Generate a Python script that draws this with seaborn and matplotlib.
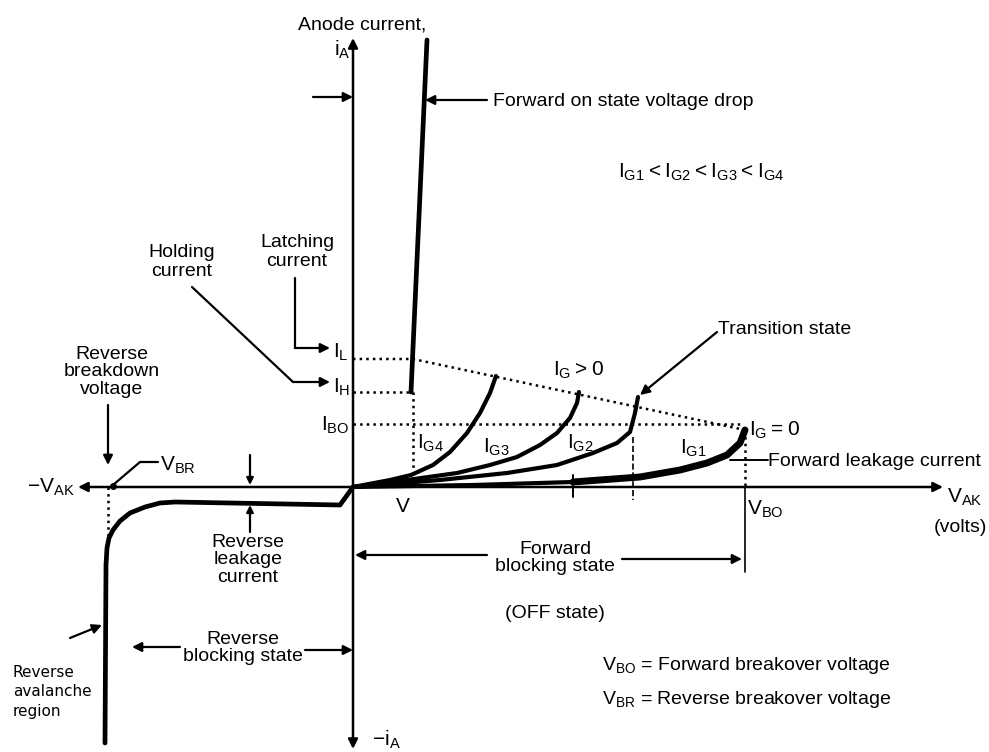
import matplotlib
matplotlib.use("Agg")
import matplotlib.pyplot as plt
import seaborn as sns

# SCR V-I characteristic, values in sketch units (origin = axis crossing)
# on-state branch
on_v = [58, 74]
on_i = [95, 447]

# forward blocking curves for the four gate currents
g4_v = [0, 37, 58, 80, 97, 114, 127, 137, 143]
g4_i = [0, 7, 12, 22, 35, 54, 74, 94, 111]
g3_v = [0, 54, 104, 137, 164, 187, 204, 217, 224, 226]
g3_i = [0, 7, 14, 22, 30, 42, 54, 69, 84, 95]
g2_v = [0, 87, 154, 204, 240, 264, 277, 282, 285]
g2_i = [0, 7, 14, 22, 34, 44, 55, 74, 90]
g1_v = [0, 120, 220, 287, 327, 354, 374, 387, 392]
g1_i = [0, 2, 5, 10, 17, 24, 32, 44, 57]

# reverse branch (leakage + avalanche)
rev_v = [0, -13, -178, -193, -208, -223, -233, -240, -244, -246, -247, -248]
rev_i = [0, -18, -15, -16, -20, -26, -34, -43, -51, -61, -78, -256]

# characteristic levels
I_L = 128
I_H = 95
I_BO = 63
V_ON = 60
V_BO = 392
V_BR = -245
latch_v = [0, V_ON, V_BO]
latch_i = [I_L, I_L, 57]

sns.set_theme(style="white")
plt.rcParams['font.family'] = ['Liberation Sans', 'DejaVu Sans']

fig = plt.figure(figsize=(9.89, 7.52), dpi=100)
ax = fig.add_axes([0, 0, 1, 1])
ax.set_xlim(-353, 636)
ax.set_ylim(-265, 487)
ax.axis('off')

FS = 14
k = 'black'


def arrow(x0, y0, x1, y1, lw=1.6, style='-|>', ms=14):
    ax.annotate('', xy=(x1, y1), xytext=(x0, y0),
                arrowprops=dict(arrowstyle=style, lw=lw, color=k,
                                mutation_scale=ms, shrinkA=0, shrinkB=0))


def txt(x, y, s, ha='left', va='center', fs=FS, **kw):
    ax.text(x, y, s, ha=ha, va=va, fontsize=fs, color=k, **kw)


# main axes
arrow(-275, 0, 590, 0, lw=1.8, style='<|-|>')
arrow(0, -262, 0, 449, lw=1.8, style='<|-|>')

# dotted guide lines
ax.plot(latch_v, latch_i, ls=':', lw=1.8, color=k)
ax.plot([0, V_ON], [I_H, I_H], ls=':', lw=1.8, color=k)
ax.plot([0, 387], [I_BO, I_BO], ls=':', lw=1.8, color=k)
ax.plot([V_ON, V_ON], [I_H, 0], ls=':', lw=1.8, color=k)
ax.plot([V_BO, V_BO], [57, 0], ls=':', lw=1.8, color=k)
ax.plot([V_BO, V_BO], [0, -85], lw=1.2, color=k)
ax.plot([V_BR, V_BR], [0, -55], ls=':', lw=1.8, color=k)
ax.plot([280, 280], [50, -13], ls='--', lw=1.2, color=k)
ax.plot([220, 220], [12, -10], lw=1.4, color=k)

# characteristic curves
sns.lineplot(x=on_v, y=on_i, sort=False, estimator=None, color=k, lw=3.4, ax=ax)
for v, i in [(g4_v, g4_i), (g3_v, g3_i), (g2_v, g2_i), (g1_v, g1_i)]:
    sns.lineplot(x=v, y=i, sort=False, estimator=None, color=k, lw=3.0, ax=ax)
sns.lineplot(x=g1_v[2:], y=g1_i[2:], sort=False, estimator=None, color=k, lw=5, ax=ax)
sns.lineplot(x=rev_v, y=rev_i, sort=False, estimator=None, color=k, lw=3.4, ax=ax)

# top annotations
txt(-55, 462, 'Anode current,')
txt(-11, 437, r'$\mathregular{i_A}$', ha='center', fs=15)
arrow(-40, 390, 0, 390)
arrow(134, 387, 72, 387)
txt(140, 385, 'Forward on state voltage drop')
txt(265, 315, r'$\mathregular{I_{G1} < I_{G2} < I_{G3} < I_{G4}}$', fs=15)

# holding / latching
txt(-171, 225, 'Holding\ncurrent', ha='center', linespacing=1.15)
txt(-56, 235, 'Latching\ncurrent', ha='center', linespacing=1.1)
ax.plot([-58, -58], [209, 139], lw=1.6, color=k)
arrow(-58, 139, -23, 139)
ax.plot([-161, -60], [200, 105], lw=1.6, color=k)
arrow(-60, 105, -23, 105)
txt(-20, 135, r'$\mathregular{I_L}$', fs=15)
txt(-20, 100, r'$\mathregular{I_H}$', fs=15)
txt(-32, 62, r'$\mathregular{I_{BO}}$', fs=15)

# gate-current labels
txt(200, 117, r'$\mathregular{I_G > 0}$', fs=15)
txt(396, 57, r'$\mathregular{I_G = 0}$', fs=15)
txt(64, 44, r'$\mathregular{I_{G4}}$', fs=15)
txt(130, 40, r'$\mathregular{I_{G3}}$', fs=15)
txt(214, 44, r'$\mathregular{I_{G2}}$', fs=15)
txt(327, 39, r'$\mathregular{I_{G1}}$', fs=15)
txt(365, 157, 'Transition state')
arrow(364, 155, 287, 92)
ax.plot([377, 415], [27, 27], lw=1.4, color=k)
txt(415, 25, 'Forward leakage current')

# voltage axis labels
txt(50, -20, 'V', ha='center', fs=15)
txt(394, -22, r'$\mathregular{V_{BO}}$', fs=15)
txt(594, -10, r'$\mathregular{V_{AK}}$', fs=15)
txt(607, -40, '(volts)', ha='center')
txt(-278, 0, r'$\mathregular{-V_{AK}}$', ha='right', fs=15)

# reverse side
txt(-241, 115, 'Reverse\nbreakdown\nvoltage', ha='center', linespacing=1.05)
arrow(-245, 82, -245, 22)
ax.plot([-240, -213, -195], [2, 25, 25], lw=1.6, color=k)
ax.plot([-240], [1], 'o', ms=4, color=k)
txt(-193, 22, r'$\mathregular{V_{BR}}$', fs=15)
arrow(-103, 32, -103, 2, ms=10)
arrow(-103, -45, -103, -18, ms=10)
txt(-105, -73, 'Reverse\nleakage\ncurrent', ha='center', linespacing=1.05)
txt(-110, -161, 'Reverse\nblocking state', ha='center', linespacing=1.05)
arrow(-173, -160, -221, -160)
arrow(-48, -163, 0, -163)
arrow(-283, -151, -251, -138)
txt(-340, -205, 'Reverse\navalanche\nregion', fs=11, linespacing=1.35,
    family='DejaVu Sans')

# forward blocking
txt(202, -71, 'Forward\nblocking state', ha='center', linespacing=1.05)
arrow(134, -68, 2, -68)
arrow(269, -72, 389, -72)
txt(202, -126, '(OFF state)', ha='center')
txt(249, -178, r'$\mathregular{V_{BO}}$ = Forward breakover voltage')
txt(249, -213, r'$\mathregular{V_{BR}}$ = Reverse breakover voltage')
txt(19, -253, r'$\mathregular{-i_A}$', fs=15)

fig.savefig('out.png', dpi=100)
